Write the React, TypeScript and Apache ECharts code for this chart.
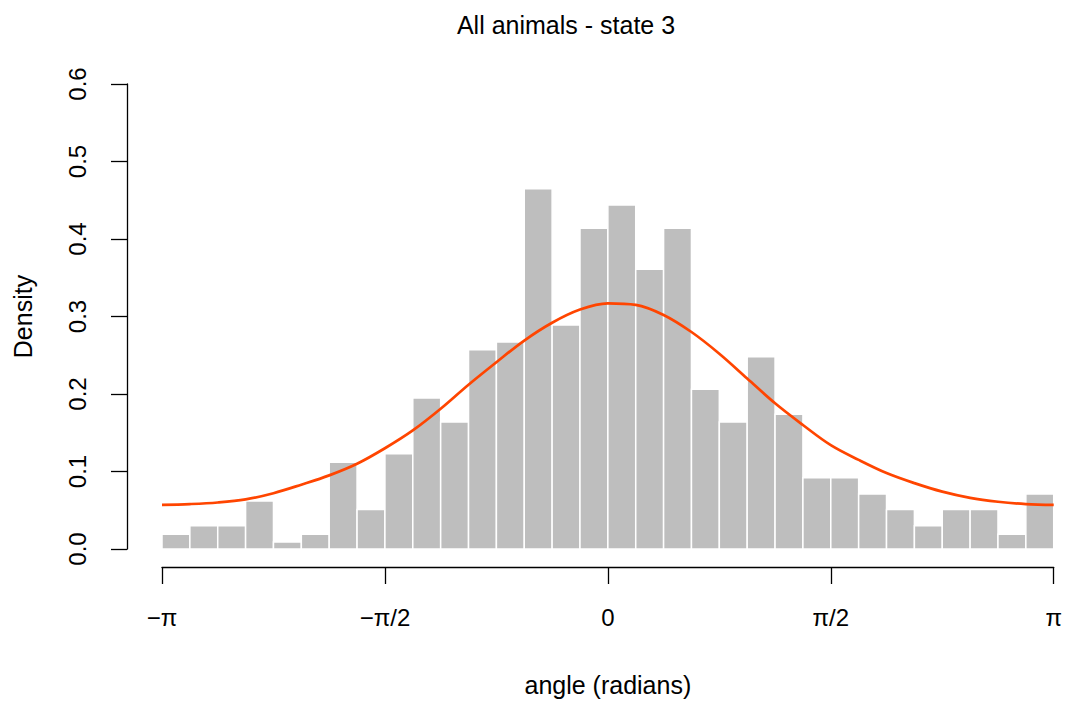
import React, { useEffect, useRef } from "react";
import * as echarts from "echarts";

const PI = Math.PI;
const binCount = 32;
const binWidth = (2 * PI) / binCount;

// Histogram densities (bins of width pi/16 from -pi to pi)
const densities = [
  0.019, 0.030, 0.030, 0.062, 0.009, 0.019, 0.112, 0.051,
  0.123, 0.195, 0.164, 0.257, 0.267, 0.465, 0.289, 0.414,
  0.444, 0.361, 0.414, 0.206, 0.164, 0.248, 0.174, 0.092,
  0.092, 0.071, 0.051, 0.030, 0.051, 0.051, 0.019, 0.071,
];

// Fitted density curve, read at every bin edge
const curveY = [
  0.057, 0.058, 0.060, 0.064, 0.072, 0.083, 0.095, 0.110,
  0.130, 0.153, 0.181, 0.212, 0.241, 0.269, 0.292, 0.309,
  0.317, 0.315, 0.302, 0.280, 0.252, 0.220, 0.188, 0.160,
  0.134, 0.115, 0.098, 0.085, 0.074, 0.066, 0.061, 0.058, 0.057,
];

const xTickLabels = ["\u2212\u03c0", "\u2212\u03c0/2", "0", "\u03c0/2", "\u03c0"];
const yTicks = [0, 0.1, 0.2, 0.3, 0.4, 0.5, 0.6];

const FONT = "Liberation Sans, Arial, sans-serif";

export default function App() {
  const ref = useRef<HTMLDivElement>(null);

  useEffect(() => {
    if (!ref.current) return;
    const chart = echarts.init(ref.current, undefined, { renderer: "svg" });

    const barData = densities.map((d, i) => [
      -PI + i * binWidth,
      -PI + (i + 1) * binWidth,
      d,
    ]);
    const lineData = curveY.map((y, i) => [-PI + i * binWidth, y]);

    chart.setOption({
      animation: false,
      backgroundColor: "#ffffff",
      title: {
        text: "All animals - state 3",
        left: 561,
        top: 7,
        textAlign: "center",
        textStyle: {
          fontFamily: FONT,
          fontSize: 25,
          fontWeight: "normal",
          color: "#000",
        },
      },
      grid: { left: 162, right: 11, top: 84, bottom: 154 },
      xAxis: {
        type: "value",
        min: -PI,
        max: PI,
        interval: PI / 2,
        offset: 18,
        name: "angle (radians)",
        nameLocation: "middle",
        nameGap: 105,
        nameTextStyle: { fontFamily: FONT, fontSize: 25, color: "#000" },
        axisLine: { show: true, onZero: false, lineStyle: { color: "#000", width: 1.3 } },
        axisTick: { show: true, length: 17, lineStyle: { color: "#000", width: 1.3 } },
        splitLine: { show: false },
        axisLabel: {
          margin: 38,
          fontFamily: FONT,
          fontSize: 24,
          color: "#000",
          showMinLabel: true,
          showMaxLabel: true,
          formatter: (v: number) => {
            const idx = Math.round(v / (PI / 2)) + 2;
            return xTickLabels[idx] ?? "";
          },
        },
      },
      yAxis: {
        type: "value",
        min: yTicks[0],
        max: yTicks[yTicks.length - 1],
        interval: 0.1,
        offset: 35,
        name: "Density",
        nameLocation: "middle",
        nameGap: 92,
        nameTextStyle: { fontFamily: FONT, fontSize: 25, color: "#000" },
        axisLine: { show: true, onZero: false, lineStyle: { color: "#000", width: 1.3 } },
        axisTick: { show: true, length: 16, lineStyle: { color: "#000", width: 1.3 } },
        splitLine: { show: false },
        axisLabel: {
          rotate: 90,
          margin: 38,
          fontFamily: FONT,
          fontSize: 24,
          color: "#000",
          formatter: (v: number) => v.toFixed(1),
        },
      },
      series: [
        {
          type: "custom",
          name: "histogram",
          data: barData,
          encode: { x: [0, 1], y: 2 },
          renderItem: (params: any, api: any) => {
            const x0 = api.value(0);
            const x1 = api.value(1);
            const y = api.value(2);
            const p0 = api.coord([x0, y]);
            const p1 = api.coord([x1, 0]);
            return {
              type: "rect",
              shape: { x: p0[0], y: p0[1], width: p1[0] - p0[0], height: p1[1] - p0[1] },
              style: { fill: "#bebebe", stroke: "#ffffff", lineWidth: 1.5 },
            };
          },
          z: 1,
        },
        {
          type: "line",
          name: "density",
          data: lineData,
          smooth: 0.35,
          showSymbol: false,
          lineStyle: { color: "#ff4500", width: 2.7 },
          z: 2,
        },
      ],
    });

    return () => chart.dispose();
  }, []);

  return (
    <div
      ref={ref}
      style={{ position: "fixed", left: 0, top: 0, width: 1065, height: 703 }}
    />
  );
}
